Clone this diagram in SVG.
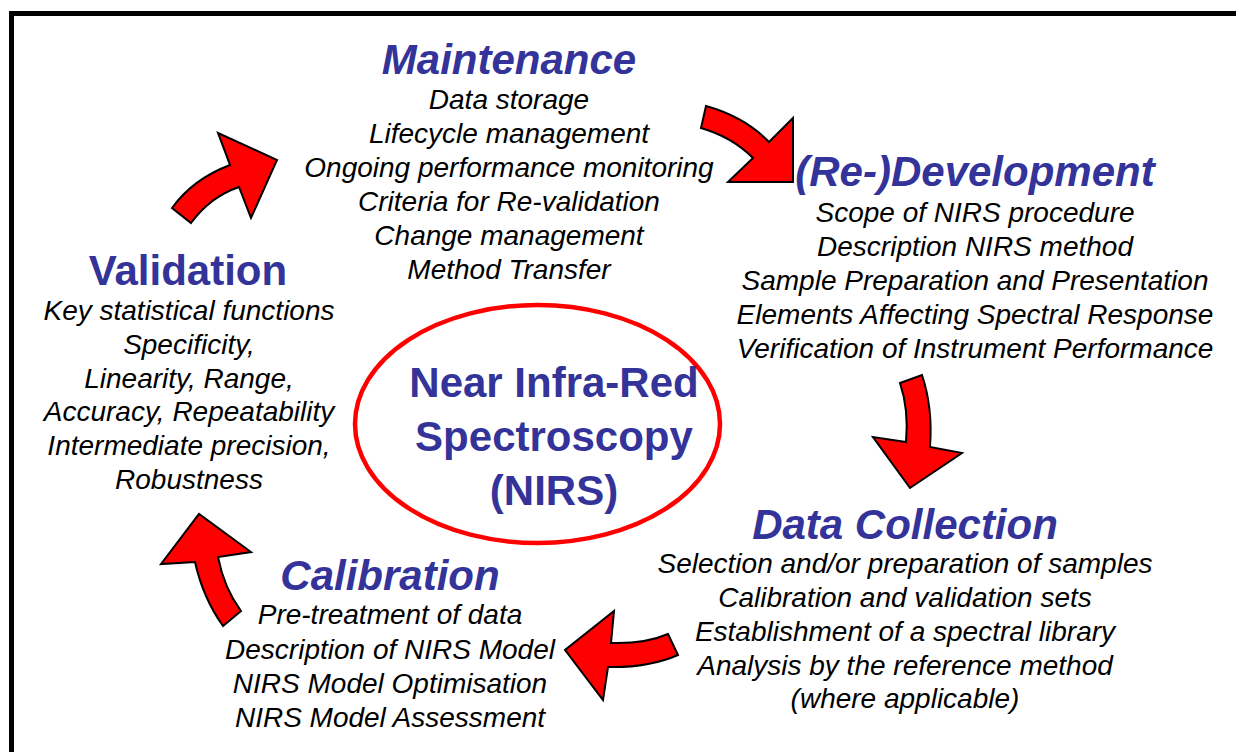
<svg xmlns="http://www.w3.org/2000/svg" width="1236" height="752" viewBox="0 0 1236 752">
<style>
.title{font-family:"Liberation Sans",Arial,sans-serif;font-weight:bold;font-size:42px;fill:#333399;text-anchor:middle}
.ti{font-style:italic}
.body{font-family:"Liberation Sans",Arial,sans-serif;font-style:italic;font-size:28px;fill:#000;text-anchor:middle}
.arrow{fill:#ff0000;stroke:#000;stroke-width:2;stroke-linejoin:miter}
</style>
<rect x="0" y="0" width="1236" height="752" fill="#fff"/>
<rect x="11.5" y="13.5" width="1400" height="900" fill="none" stroke="#000" stroke-width="5"/>

<g id="connectors">
<path class="arrow" d="M172,208 Q193,179 230,165 L218,133 L277,160 L251,218 L239,187 Q210,197 191,223 Z"/>
<path class="arrow" d="M706,106 Q745,117 769,142 L793,118 L793,182 L728,182 L753,158 Q732,137 701,128 Z"/>
<path class="arrow" d="M900,383 L922,375 Q933,408 930,447 L962,453 L910,488 L873,437 L906,442 Q909,410 900,383 Z"/>
<path class="arrow" d="M668,634 L678,655 Q648,668 608,667 L603,700 L565,650 L614,611 L611,643 Q645,644 668,634 Z"/>
<path class="arrow" d="M241,611 L223,626 Q203,598 195,562 L161,564 L199,514 L251,552 L218,557 Q224,588 241,611 Z"/>
</g>

<g id="center">
<ellipse cx="537.5" cy="424" rx="182.5" ry="119" fill="none" stroke="#ff0000" stroke-width="4.5"/>
<text class="title" x="554" y="397">Near Infra-Red</text>
<text class="title" x="554" y="451">Spectroscopy</text>
<text class="title" x="554" y="505">(NIRS)</text>
</g>

<g id="maintenance">
<text class="title ti" x="509" y="74">Maintenance</text>
<text class="body" x="509" y="109">Data storage</text>
<text class="body" x="509" y="143">Lifecycle management</text>
<text class="body" x="509" y="177">Ongoing performance monitoring</text>
<text class="body" x="509" y="211">Criteria for Re-validation</text>
<text class="body" x="509" y="245">Change management</text>
<text class="body" x="509" y="279">Method Transfer</text>
</g>

<g id="development">
<text class="title ti" x="975" y="186">(Re-)Development</text>
<text class="body" x="975" y="222">Scope of NIRS procedure</text>
<text class="body" x="975" y="256">Description NIRS method</text>
<text class="body" x="975" y="290">Sample Preparation and Presentation</text>
<text class="body" x="975" y="324">Elements Affecting Spectral Response</text>
<text class="body" x="975" y="358">Verification of Instrument Performance</text>
</g>

<g id="data-collection">
<text class="title ti" x="905" y="539">Data Collection</text>
<text class="body" x="905" y="573">Selection and/or preparation of samples</text>
<text class="body" x="905" y="607">Calibration and validation sets</text>
<text class="body" x="905" y="641">Establishment of a spectral library</text>
<text class="body" x="905" y="675">Analysis by the reference method</text>
<text class="body" x="905" y="708">(where applicable)</text>
</g>

<g id="calibration">
<text class="title ti" x="390" y="590">Calibration</text>
<text class="body" x="390" y="624">Pre-treatment of data</text>
<text class="body" x="390" y="659">Description of NIRS Model</text>
<text class="body" x="390" y="693">NIRS Model Optimisation</text>
<text class="body" x="390" y="727">NIRS Model Assessment</text>
</g>

<g id="validation">
<text class="title" x="188" y="285">Validation</text>
<text class="body" x="189" y="320">Key statistical functions</text>
<text class="body" x="189" y="354">Specificity,</text>
<text class="body" x="189" y="388">Linearity, Range,</text>
<text class="body" x="189" y="421">Accuracy, Repeatability</text>
<text class="body" x="189" y="455">Intermediate precision,</text>
<text class="body" x="189" y="489">Robustness</text>
</g>
</svg>
